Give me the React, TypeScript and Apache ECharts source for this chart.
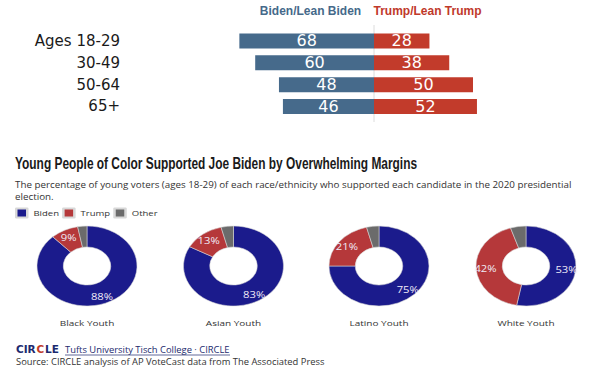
import React, { useEffect, useRef } from "react";
import * as echarts from "echarts";

const ageGroups = ["Ages 18-29", "30-49", "50-64", "65+"];
const bidenLean = [68, 60, 48, 46];
const trumpLean = [28, 38, 50, 52];

const youthGroups = ["Black Youth", "Asian Youth", "Latino Youth", "White Youth"];
const bidenShare = [88, 83, 75, 53];
const trumpShare = [9, 13, 21, 42];
const otherShare = [3, 4, 4, 5];
const candidateNames = ["Biden", "Trump", "Other"];

const STRETCH = 1.25;
const pieCentersX = [87, 233.5, 379, 526];

export default function App() {
  const topRef = useRef<HTMLDivElement>(null);
  const pieRef = useRef<HTMLDivElement>(null);

  useEffect(() => {
    const chart = echarts.init(topRef.current!, null, { renderer: "svg" });
    const zeroX = 374;
    const scale = 1.98;
    const min = -70;
    const max = 60;
    const gridLeft = zeroX + min * scale;
    const gridWidth = (max - min) * scale;
    const logoFont = "bold 10.5px 'DejaVu Sans', sans-serif";
    chart.setOption({
      animation: false,
      grid: { left: gridLeft, width: gridWidth, top: 30, height: 87.4 },
      xAxis: { type: "value", min, max, show: false },
      yAxis: {
        type: "category",
        data: ageGroups,
        inverse: true,
        axisLine: { show: false },
        axisTick: { show: false },
        axisLabel: {
          margin: gridLeft - 120,
          fontSize: 15,
          fontFamily: "DejaVu Sans",
          color: "#1a1a1a",
        },
      },
      series: [
        {
          name: "Biden/Lean Biden",
          type: "bar",
          stack: "t",
          barWidth: 15,
          data: bidenLean.map((v) => -v),
          itemStyle: { color: "#466a8b" },
          label: {
            show: true,
            position: "inside",
            formatter: (p: any) => String(Math.abs(p.value)),
            color: "#fff",
            fontSize: 16,
            fontFamily: "DejaVu Sans",
          },
        },
        {
          name: "Trump/Lean Trump",
          type: "bar",
          stack: "t",
          barWidth: 15,
          data: trumpLean,
          itemStyle: { color: "#c23b2b" },
          label: {
            show: true,
            position: "inside",
            color: "#fff",
            fontSize: 16,
            fontFamily: "DejaVu Sans",
          },
        },
      ],
      graphic: [
        {
          type: "line",
          shape: { x1: zeroX, y1: 25, x2: zeroX, y2: 122 },
          style: { stroke: "#dcdcdc", lineWidth: 1 },
          z: 0,
        },
        {
          type: "text",
          x: 310.5,
          y: 11,
          style: {
            text: "Biden/Lean Biden",
            align: "center",
            verticalAlign: "middle",
            fill: "#45698a",
            font: "bold 12px 'Liberation Sans', Arial, sans-serif",
          },
        },
        {
          type: "text",
          x: 427.5,
          y: 11,
          style: {
            text: "Trump/Lean Trump",
            align: "center",
            verticalAlign: "middle",
            fill: "#c0392b",
            font: "bold 12px 'Liberation Sans', Arial, sans-serif",
          },
        },
        {
          type: "text",
          x: 15,
          y: 163,
          scaleX: 0.745,
          style: {
            text: "Young People of Color Supported Joe Biden by Overwhelming Margins",
            align: "left",
            verticalAlign: "middle",
            fill: "#1a1a1a",
            font: "bold 16px 'Liberation Sans', Arial, sans-serif",
          },
        },
        {
          type: "text",
          x: 15,
          y: 179,
          style: {
            text:
              "The percentage of young voters (ages 18-29) of each race/ethnicity who supported each candidate in the 2020 presidential\nelection.",
            align: "left",
            verticalAlign: "top",
            lineHeight: 11.5,
            fill: "#333",
            font: "9.8px 'Open Sans', sans-serif",
          },
        },
        {
          type: "text",
          x: 16,
          y: 349,
          style: { text: "CIR", verticalAlign: "middle", fill: "#1c2a6e", font: logoFont },
        },
        {
          type: "text",
          x: 36.5,
          y: 349,
          style: { text: "C", verticalAlign: "middle", fill: "#c23b2b", font: logoFont },
        },
        {
          type: "text",
          x: 45,
          y: 349,
          style: { text: "LE", verticalAlign: "middle", fill: "#1c2a6e", font: logoFont },
        },
        {
          type: "text",
          x: 65,
          y: 349,
          style: {
            text: "Tufts University Tisch College · CIRCLE",
            verticalAlign: "middle",
            fill: "#1c2a6e",
            font: "9.4px 'Open Sans', sans-serif",
          },
        },
        {
          type: "line",
          shape: { x1: 65, y1: 355, x2: 230, y2: 355 },
          style: { stroke: "#1c2a6e", lineWidth: 0.7 },
        },
        {
          type: "text",
          x: 16,
          y: 361.5,
          style: {
            text: "Source: CIRCLE analysis of AP VoteCast data from The Associated Press",
            verticalAlign: "middle",
            fill: "#333",
            font: "9.4px 'Open Sans', sans-serif",
          },
        },
      ],
    });

    const pies = echarts.init(pieRef.current!, null, { renderer: "svg" });
    const offY = 200;
    pies.setOption({
      animation: false,
      color: ["#1b1b8c", "#b5383a", "#6b6b6b"],
      legend: {
        data: candidateNames,
        left: 12,
        top: 7.5,
        padding: 0,
        itemWidth: 8.8,
        itemHeight: 9,
        itemGap: 2.5,
        icon: "rect",
        selectedMode: false,
        textStyle: { fontSize: 7.6, color: "#333", fontFamily: "'Open Sans', sans-serif" },
      },
      series: youthGroups.map((g, i) => ({
        name: g,
        type: "pie",
        center: [pieCentersX[i] / STRETCH, 266 - offY],
        radius: [19, 40],
        startAngle: 90,
        clockwise: true,
        label: {
          show: true,
          position: "inside",
          formatter: (p: any) => (p.name === "Other" ? "" : p.value + "%"),
          color: "#f0ecf8",
          fontSize: 9,
          fontFamily: "'Open Sans', sans-serif",
        },
        labelLine: { show: false },
        itemStyle: { borderColor: "#d8d8d8", borderWidth: 0.5 },
        emphasis: { disabled: true },
        data: [
          { name: candidateNames[0], value: bidenShare[i] },
          { name: candidateNames[1], value: trumpShare[i] },
          { name: candidateNames[2], value: otherShare[i] },
        ],
      })),
      graphic: youthGroups.map((g, i) => ({
        type: "text",
        x: pieCentersX[i] / STRETCH,
        y: 323 - offY,
        style: {
          text: g,
          align: "center",
          verticalAlign: "middle",
          fill: "#333",
          font: "8px 'Open Sans', sans-serif",
        },
      })),
    });

    return () => {
      chart.dispose();
      pies.dispose();
    };
  }, []);

  return (
    <div style={{ position: "fixed", left: 0, top: 0, width: 595, height: 368, background: "#fff" }}>
      <div ref={topRef} style={{ position: "absolute", left: 0, top: 0, width: 595, height: 368 }} />
      <div
        ref={pieRef}
        style={{
          position: "absolute",
          left: 0,
          top: 200,
          width: 595 / STRETCH,
          height: 135,
          transform: `scaleX(${STRETCH})`,
          transformOrigin: "0 0",
        }}
      />
    </div>
  );
}
